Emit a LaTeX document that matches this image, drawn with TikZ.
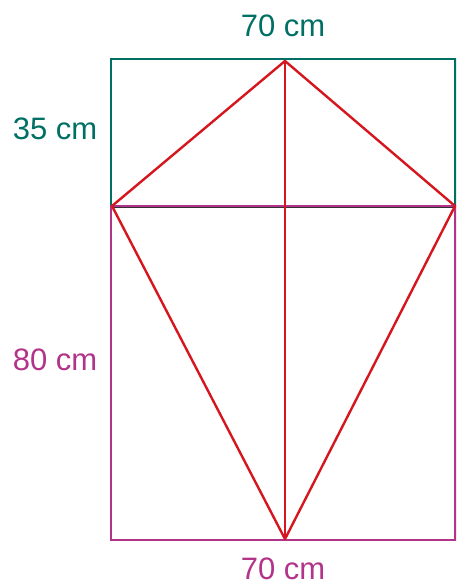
\documentclass[tikz,border=0pt]{standalone}
\usepackage{fontspec}
\setmainfont{Liberation Sans}
\definecolor{teal1}{RGB}{0,112,100}
\definecolor{mag1}{RGB}{178,52,138}
\definecolor{red1}{RGB}{214,22,30}
\begin{document}
\begin{tikzpicture}[x=1pt,y=-1pt,
  tealbox/.style={draw=teal1,line width=2.4pt},
  magbox/.style={draw=mag1,line width=2.4pt},
  kite/.style={draw=red1,line width=2.4pt,line join=round},
  lab/.style={font=\fontsize{31}{34}\selectfont,inner sep=0pt,anchor=center}]
\useasboundingbox (0,0) rectangle (456,584);
\clip (0,0) rectangle (456,584);
\coordinate (tl) at (111,59);
\coordinate (mr) at (455.5,206);
\coordinate (ml) at (111,206);
\coordinate (br) at (455.5,540);
\draw[tealbox] (tl) rectangle (mr);
\draw[black!80,line width=1.4pt] (111,207.6) -- (455.5,207.6);
\draw[magbox] (ml) rectangle (br);
\coordinate (T) at (285,61);
\coordinate (L) at (112,206);
\coordinate (R) at (455,206);
\coordinate (B) at (285,539);
\draw[kite] (T) -- (L) -- (B) -- (R) -- cycle;
\draw[kite] (T) -- (B);
\node[lab,text=teal1] (w1) at (283,26) {70 cm};
\node[lab,text=teal1] (h1) at (55,129) {35 cm};
\node[lab,text=mag1] (h2) at (55,360) {80 cm};
\node[lab,text=mag1] (w2) at (283,569) {70 cm};
\end{tikzpicture}
\end{document}
